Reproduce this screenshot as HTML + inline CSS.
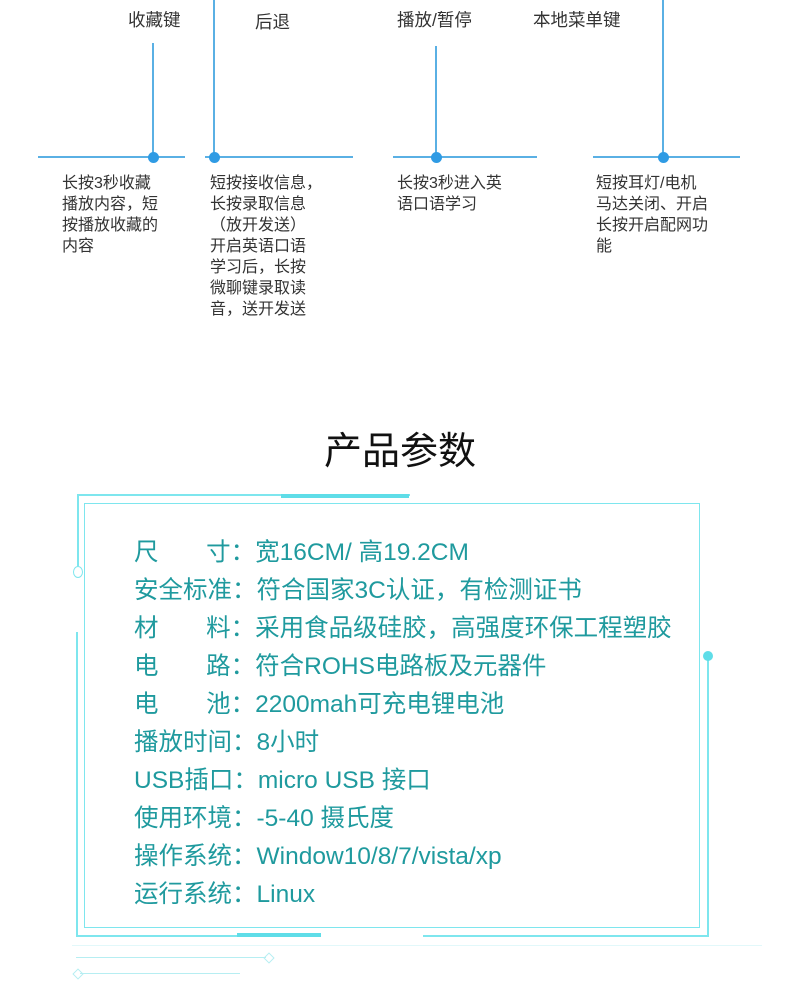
<!DOCTYPE html>
<html><head><meta charset="utf-8"><style>
body{margin:0;width:790px;height:1000px;background:#fff;position:relative;overflow:hidden;font-family:"Liberation Sans","Noto Sans CJK SC",sans-serif}
.a{position:absolute}
.l{position:absolute;background:#5ab0e4}
.d{position:absolute;width:11px;height:11px;border-radius:50%;background:#2f9be4}
.lab{position:absolute;font-size:17.5px;color:#333;white-space:nowrap}
.desc{position:absolute;font-size:16px;line-height:21px;color:#333;white-space:nowrap}
.c{position:absolute;background:#7ee6ee}
.row{position:absolute;left:134px;font-size:24.5px;color:#1f9a9e;white-space:nowrap}
</style></head><body>
<div class="lab" style="left:128px;top:7px">收藏键</div>
<div class="lab" style="left:255px;top:9px">后退</div>
<div class="lab" style="left:397px;top:7px">播放/暂停</div>
<div class="lab" style="left:533px;top:7px">本地菜单键</div>

<div class="l" style="left:38px;top:156px;width:147px;height:2px"></div>
<div class="l" style="left:205px;top:156px;width:148px;height:2px"></div>
<div class="l" style="left:393px;top:156px;width:144px;height:2px"></div>
<div class="l" style="left:593px;top:156px;width:147px;height:2px"></div>
<div class="l" style="left:152px;top:43px;width:2px;height:114px"></div>
<div class="l" style="left:213px;top:0;width:2px;height:157px"></div>
<div class="l" style="left:435px;top:46px;width:2px;height:111px"></div>
<div class="l" style="left:662px;top:0;width:2px;height:157px"></div>
<div class="d" style="left:148px;top:152px"></div>
<div class="d" style="left:209px;top:152px"></div>
<div class="d" style="left:431px;top:152px"></div>
<div class="d" style="left:658px;top:152px"></div>

<div class="desc" style="left:62px;top:173px">长按3秒收藏<br>播放内容，短<br>按播放收藏的<br>内容</div>
<div class="desc" style="left:210px;top:173px">短按接收信息，<br>长按录取信息<br>（放开发送）<br>开启英语口语<br>学习后，长按<br>微聊键录取读<br>音，送开发送</div>
<div class="desc" style="left:397px;top:173px">长按3秒进入英<br>语口语学习</div>
<div class="desc" style="left:596px;top:173px">短按耳灯/电机<br>马达关闭、开启<br>长按开启配网功<br>能</div>

<div class="a" style="left:0;width:800px;top:420px;text-align:center;font-size:38px;color:#111">产品参数</div>

<div class="a" style="left:84px;top:503px;width:614px;height:423px;border:1.5px solid #7ee6ee"></div>
<div class="c" style="left:77px;top:494px;width:333px;height:1.5px"></div>
<div class="c" style="left:281px;top:494px;width:128px;height:4px;background:#5fdde8"></div>
<div class="c" style="left:77px;top:494px;width:1.5px;height:72px"></div>
<div class="a" style="left:73px;top:566px;width:8px;height:10px;border:1px solid #7ee6ee;border-radius:50%"></div>
<div class="c" style="left:76px;top:632px;width:1.5px;height:304px"></div>
<div class="c" style="left:76px;top:935px;width:245px;height:1.5px"></div>
<div class="c" style="left:237px;top:933px;width:84px;height:4px;background:#5fdde8"></div>
<div class="c" style="left:423px;top:935px;width:286px;height:1.5px"></div>
<div class="c" style="left:707px;top:656px;width:1.5px;height:280px"></div>
<div class="a" style="left:703px;top:651px;width:10px;height:10px;border-radius:50%;background:#5fdde8"></div>
<div class="a" style="left:72px;top:945px;width:690px;height:1px;background:#e2f8fa"></div>
<div class="a" style="left:76px;top:957px;width:190px;height:1px;background:#b6eef2"></div>
<div class="a" style="left:265px;top:954px;width:6px;height:6px;border:1px solid #b6eef2;transform:rotate(45deg)"></div>
<div class="a" style="left:80px;top:973px;width:160px;height:1px;background:#b6eef2"></div>
<div class="a" style="left:74px;top:970px;width:6px;height:6px;border:1px solid #b6eef2;transform:rotate(45deg)"></div>

<div class="row" style="top:533px">尺&nbsp;&nbsp;&nbsp;&nbsp;&nbsp;&nbsp;&nbsp;寸：宽16CM/ 高19.2CM</div>
<div class="row" style="top:571px">安全标准：符合国家3C认证，有检测证书</div>
<div class="row" style="top:609px">材&nbsp;&nbsp;&nbsp;&nbsp;&nbsp;&nbsp;&nbsp;料：采用食品级硅胶，高强度环保工程塑胶</div>
<div class="row" style="top:647px">电&nbsp;&nbsp;&nbsp;&nbsp;&nbsp;&nbsp;&nbsp;路：符合ROHS电路板及元器件</div>
<div class="row" style="top:685px">电&nbsp;&nbsp;&nbsp;&nbsp;&nbsp;&nbsp;&nbsp;池：2200mah可充电锂电池</div>
<div class="row" style="top:723px">播放时间：8小时</div>
<div class="row" style="top:761px">USB插口：micro USB 接口</div>
<div class="row" style="top:799px">使用环境：-5-40 摄氏度</div>
<div class="row" style="top:837px">操作系统：Window10/8/7/vista/xp</div>
<div class="row" style="top:875px">运行系统：Linux</div>
</body></html>
